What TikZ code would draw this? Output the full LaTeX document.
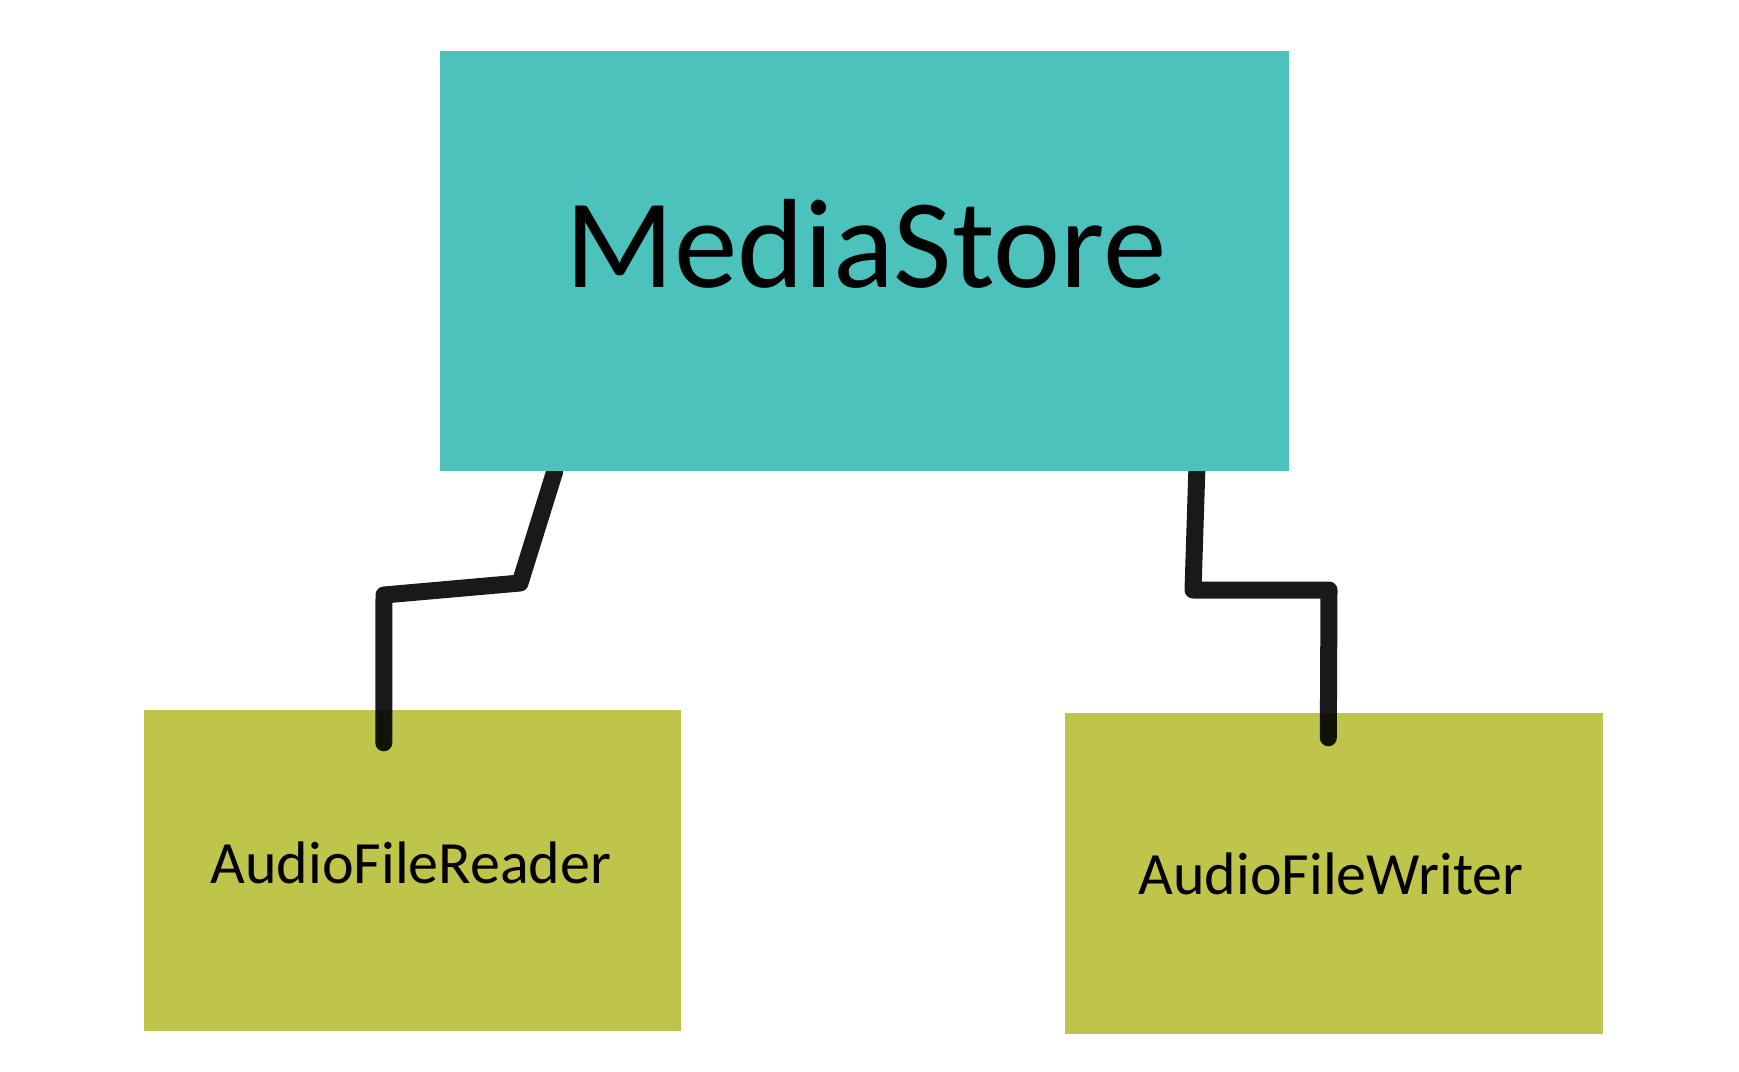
\documentclass[tikz,border=0pt]{standalone}
\usepackage{fontspec}
\setmainfont{Carlito}
\usetikzlibrary{calc}
\definecolor{storeteal}{HTML}{4BC3BC}
\definecolor{fileolive}{HTML}{BFC44B}
\tikzset{
	box/.style = {rectangle, inner sep = 0pt, draw = none},
	wire/.style = {line width = 17pt, black, opacity = 0.9, line cap = round, line join = round}
}
\begin{document}
\begin{tikzpicture}[x = 1pt, y = -1pt]
\useasboundingbox[fill = white] (0, 0) rectangle (1739, 1071);
\node[box, fill = fileolive, minimum width = 537pt, minimum height = 321pt] (reader) at (412.5, 870.5) {};
\node[box, fill = fileolive, minimum width = 538pt, minimum height = 321pt] (writer) at (1333.5, 873.5) {};
\node[font = \fontsize{60}{60}\selectfont] (readertext) at (411, 863) {AudioFileReader};
\node[font = \fontsize{60}{60}\selectfont] (writertext) at (1331, 874) {AudioFileWriter};
\coordinate (readerend) at ([xshift = 240pt, yshift = -33pt]reader.north west);
\coordinate (writerend) at ([xshift = 264pt, yshift = -25pt]writer.north west);
\node[box, minimum width = 849pt, minimum height = 420pt] (store) at (864.5, 261) {};
\draw[wire] ([xshift = 115pt]store.south west) -- (520, 583) -- (384, 595) -- (readerend);
\draw[wire] ([xshift = 757pt]store.south west) -- (1193, 590) -- (1329, 590) -- (writerend);
\fill[storeteal] (store.south west) rectangle (store.north east);
\node[font = \fontsize{127}{127}\selectfont] (storetext) at (866, 244) {MediaStore};
\end{tikzpicture}
\end{document}
